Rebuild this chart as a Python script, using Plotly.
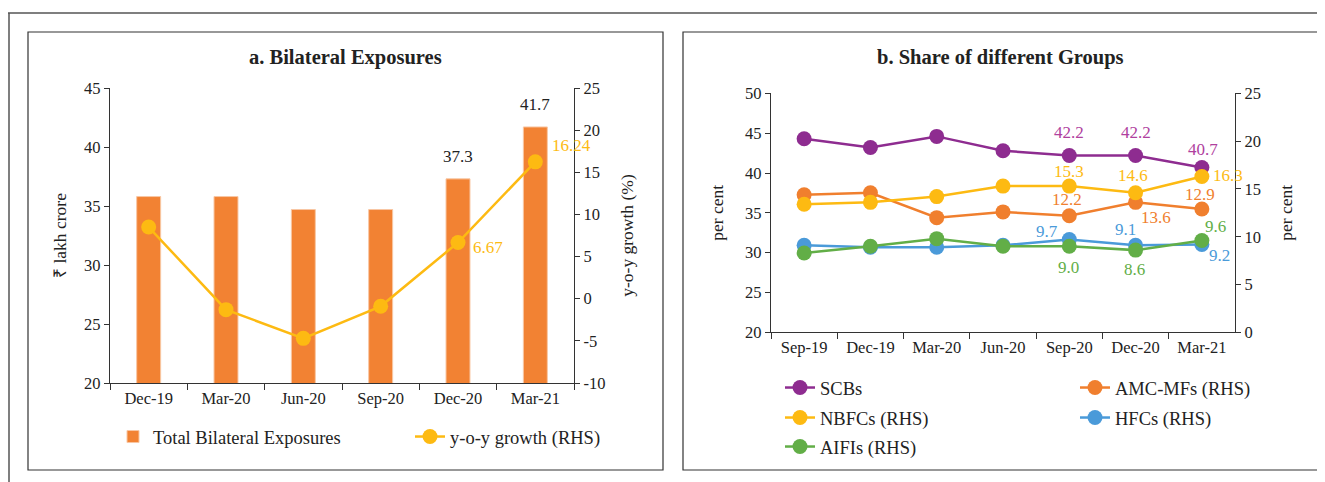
import plotly.graph_objects as go

# ---------------- data ----------------
cats_a = ["Dec-19", "Mar-20", "Jun-20", "Sep-20", "Dec-20", "Mar-21"]
bilateral = [35.8, 35.8, 34.7, 34.7, 37.3, 41.7]
yoy_growth = [8.5, -1.3, -4.7, -0.9, 6.67, 16.24]
yoy_tickvals = [-10, -5, 0, 5, 10, 15, 20, 25]
yoy_ticktext = ["-10", "-5", "0", "5", "10", "15", "20", "25"]

cats_b = ["Sep-19", "Dec-19", "Mar-20", "Jun-20", "Sep-20", "Dec-20", "Mar-21"]
scbs = [44.3, 43.2, 44.6, 42.8, 42.2, 42.2, 40.7]
amc_mfs = [14.4, 14.6, 12.0, 12.6, 12.2, 13.6, 12.9]
nbfcs = [13.4, 13.6, 14.2, 15.3, 15.3, 14.6, 16.3]
hfcs = [9.1, 8.9, 8.9, 9.1, 9.7, 9.1, 9.2]
aifis = [8.3, 9.0, 9.8, 9.0, 9.0, 8.6, 9.6]

W, H = 1325, 482
OFF = 8  # page body margin
FONT = "Liberation Serif"
AX = "#333333"

C_BAR = "#F28233"
C_YOY = "#FDBA12"
C_SCB = "#8E2C90"
C_SCB_L = "#B0409E"
C_AMC = "#F07F2E"
C_NBFC = "#FDBA12"
C_HFC = "#4A9AD9"
C_AIFI = "#62AE47"


def px(x):
    return (x - OFF) / W


def py(y):
    return 1 - (y - OFF) / H


fig = go.Figure()

# ---------------- panel a ----------------
fig.add_trace(go.Bar(
    x=cats_a, y=bilateral, name="Total Bilateral Exposures",
    marker=dict(color=C_BAR, line=dict(color="#F8C7A4", width=1)),
    width=0.31, xaxis="x", yaxis="y", legend="legend",
))
fig.add_trace(go.Scatter(
    x=cats_a, y=yoy_growth, name="y-o-y growth (RHS)", mode="lines+markers",
    line=dict(color=C_YOY, width=2.5), marker=dict(size=15, color=C_YOY),
    xaxis="x", yaxis="y2", legend="legend",
))

# ---------------- panel b ----------------
series_b = [
    ("SCBs", scbs, C_SCB, "y3", "legend2"),
    ("AMC-MFs (RHS)", amc_mfs, C_AMC, "y4", "legend2"),
    ("NBFCs (RHS)", nbfcs, C_NBFC, "y4", "legend3"),
    ("HFCs (RHS)", hfcs, C_HFC, "y4", "legend3"),
    ("AIFIs (RHS)", aifis, C_AIFI, "y4", "legend4"),
]
for name, vals, col, yax, leg in series_b:
    fig.add_trace(go.Scatter(
        x=cats_b, y=vals, name=name, mode="lines+markers",
        line=dict(color=col, width=2.5), marker=dict(size=15, color=col),
        xaxis="x2", yaxis=yax, legend=leg,
    ))

# ---------------- data labels ----------------
ann = []


def lab(x, y, text, color, xs, ys, xref, yref):
    ann.append(dict(x=x, y=y, xref=xref, yref=yref, text=text, showarrow=False,
                    xshift=xs, yshift=ys, font=dict(family=FONT, size=17, color=color)))


lab(cats_a[4], bilateral[4], f"{bilateral[4]:.1f}", "#222222", 0, 22, "x", "y")
lab(cats_a[5], bilateral[5], f"{bilateral[5]:.1f}", "#222222", 0, 22, "x", "y")
lab(cats_a[4], yoy_growth[4], f"{yoy_growth[4]:.2f}", C_YOY, 30, -5, "x", "y2")
lab(cats_a[5], yoy_growth[5], f"{yoy_growth[5]:.2f}", C_YOY, 36, 16, "x", "y2")

lab(cats_b[4], scbs[4], f"{scbs[4]:.1f}", C_SCB_L, 0, 23, "x2", "y3")
lab(cats_b[5], scbs[5], f"{scbs[5]:.1f}", C_SCB_L, 0, 23, "x2", "y3")
lab(cats_b[6], scbs[6], f"{scbs[6]:.1f}", C_SCB_L, 1, 18, "x2", "y3")

lab(cats_b[4], nbfcs[4], f"{nbfcs[4]:.1f}", C_NBFC, 0, 15, "x2", "y4")
lab(cats_b[5], nbfcs[5], f"{nbfcs[5]:.1f}", C_NBFC, -3, 17, "x2", "y4")
lab(cats_b[6], nbfcs[6], f"{nbfcs[6]:.1f}", C_NBFC, 26, 1, "x2", "y4")

lab(cats_b[4], amc_mfs[4], f"{amc_mfs[4]:.1f}", C_AMC, -2, 16, "x2", "y4")
lab(cats_b[5], amc_mfs[5], f"{amc_mfs[5]:.1f}", C_AMC, 20, -15, "x2", "y4")
lab(cats_b[6], amc_mfs[6], f"{amc_mfs[6]:.1f}", C_AMC, -2, 15, "x2", "y4")

lab(cats_b[4], hfcs[4], f"{hfcs[4]:.1f}", C_HFC, -22, 8, "x2", "y4")
lab(cats_b[5], hfcs[5], f"{hfcs[5]:.1f}", C_HFC, -10, 16, "x2", "y4")
lab(cats_b[6], hfcs[6], f"{hfcs[6]:.1f}", C_HFC, 18, -11, "x2", "y4")

lab(cats_b[4], aifis[4], f"{aifis[4]:.1f}", C_AIFI, -1, -21, "x2", "y4")
lab(cats_b[5], aifis[5], f"{aifis[5]:.1f}", C_AIFI, -1, -19, "x2", "y4")
lab(cats_b[6], aifis[6], f"{aifis[6]:.1f}", C_AIFI, 14, 14, "x2", "y4")

# titles
ann.append(dict(x=px(345), y=py(58), xref="paper", yref="paper", xanchor="center", yanchor="middle",
                text="<b>a. Bilateral Exposures</b>",
                showarrow=False, font=dict(family=FONT, size=20.5, color="#222222")))
ann.append(dict(x=px(1000), y=py(58), xref="paper", yref="paper", xanchor="center", yanchor="middle",
                text="<b>b. Share of different Groups</b>",
                showarrow=False, font=dict(family=FONT, size=20.5, color="#222222")))

# ---------------- frames ----------------
shapes = [
    dict(type="line", xref="paper", yref="paper", x0=0, x1=1, y0=py(13), y1=py(13),
         line=dict(color="#555555", width=1.5)),
    dict(type="line", xref="paper", yref="paper", x0=px(9), x1=px(9), y0=py(13), y1=0,
         line=dict(color="#555555", width=1.5)),
    dict(type="rect", xref="paper", yref="paper", x0=px(28), x1=px(663), y0=py(470), y1=py(32),
         line=dict(color="#333333", width=1.2)),
    dict(type="rect", xref="paper", yref="paper", x0=px(683), x1=px(1318), y0=py(470), y1=py(32),
         line=dict(color="#333333", width=1.2)),
]

tick_font = dict(family=FONT, size=16.5, color="#222222")
title_font = dict(family=FONT, size=17.5, color="#222222")
leg_font = dict(family=FONT, size=18.5, color="#222222")

common_y = dict(showline=True, linecolor=AX, linewidth=1.3, ticks="outside", ticklen=5,
                tickcolor=AX, showgrid=False, zeroline=False, tickfont=tick_font,
                automargin=False)
common_x = dict(showline=True, linecolor=AX, linewidth=1.3, ticks="outside", ticklen=6,
                tickcolor=AX, showgrid=False, tickson="boundaries", tickfont=tick_font,
                type="category", automargin=False)

leg_common = dict(orientation="h", xanchor="left", yanchor="middle", font=leg_font,
                  entrywidthmode="pixels", bgcolor="rgba(0,0,0,0)",
                  traceorder="normal")

fig.update_layout(
    width=W, height=H, margin=dict(l=0, r=0, t=0, b=0, autoexpand=False),
    paper_bgcolor="white", plot_bgcolor="white",
    font=dict(family=FONT, color="#222222"),
    xaxis=dict(domain=[px(110), px(574)], anchor="y", range=[-0.5, len(cats_a) - 0.5], **common_x),
    yaxis=dict(domain=[py(383), py(88)], range=[20, 45], dtick=5, anchor="x",
               title=dict(text="₹ lakh crore", font=title_font, standoff=12), **common_y),
    yaxis2=dict(range=[-10, 25], overlaying="y", side="right", anchor="x",
                tickvals=yoy_tickvals, ticktext=yoy_ticktext,
                title=dict(text="y-o-y growth (%)", font=title_font, standoff=16), **common_y),
    xaxis2=dict(domain=[px(771), px(1235)], anchor="y3", range=[-0.5, len(cats_b) - 0.5], **common_x),
    yaxis3=dict(domain=[py(332.3), py(93.4)], range=[20, 50], dtick=5, anchor="x2",
                title=dict(text="per cent", font=title_font, standoff=16), **common_y),
    yaxis4=dict(range=[0, 25], dtick=5, overlaying="y3", side="right", anchor="x2",
                title=dict(text="per cent", font=title_font, standoff=19), **common_y),
    legend=dict(x=px(113), y=py(437), entrywidth=252, **leg_common),
    legend2=dict(x=px(780), y=py(388), entrywidth=250, **leg_common),
    legend3=dict(x=px(780), y=py(418), entrywidth=250, **leg_common),
    legend4=dict(x=px(780), y=py(447), entrywidth=250, **leg_common),
    annotations=ann,
    shapes=shapes,
    showlegend=True,
)

fig.write_html("out.html")
